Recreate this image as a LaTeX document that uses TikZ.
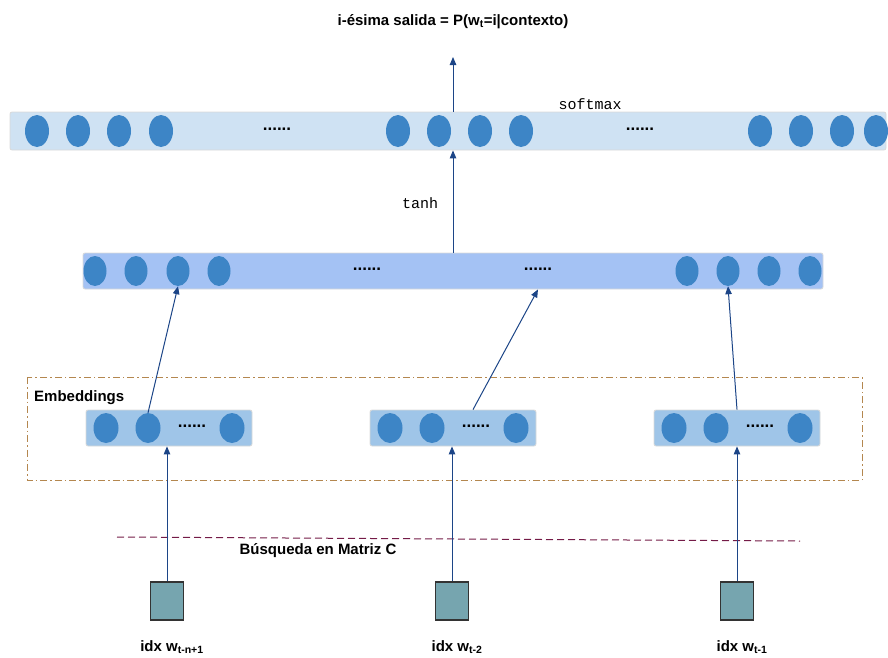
\documentclass[tikz,border=0pt]{standalone}
\usepackage{fontspec}
\setmainfont{Liberation Sans}
\setmonofont{Liberation Mono}
\usetikzlibrary{arrows.meta,shapes.geometric}
\definecolor{barTop}{HTML}{CFE2F3}
\definecolor{barMid}{HTML}{A4C2F4}
\definecolor{barEmb}{HTML}{9FC5E8}
\definecolor{unit}{HTML}{3D85C6}
\definecolor{arrowBlue}{HTML}{1C4587}
\definecolor{frameBrown}{HTML}{B4874F}
\definecolor{lookup}{HTML}{741B47}
\definecolor{wordBox}{HTML}{76A5AF}
\tikzset{
  bar/.style={rounded corners=2pt, draw=black!15, line width=0.8pt},
  neuron/.style={ellipse, fill=unit, minimum width=24, minimum height=32, inner sep=0pt},
  dots/.style={font=\bfseries\fontsize{17}{17}\selectfont, inner sep=0pt},
  flow/.style={draw=arrowBlue, line width=1pt, -{Triangle[width=6.5pt,length=8pt]}},
  label/.style={font=\bfseries\fontsize{15}{17}\selectfont, inner sep=0pt},
  mono/.style={font=\ttfamily\fontsize{15}{16}\selectfont, inner sep=0pt},
  word/.style={draw=black!80, fill=wordBox, line width=1.2pt, minimum width=33, minimum height=38, inner sep=0pt}
}
\begin{document}
\begin{tikzpicture}[x=1pt, y=-1pt]
\useasboundingbox (0,0) rectangle (888,657);

% output layer (softmax)
\node[bar, fill=barTop, minimum width=876, minimum height=38, inner sep=0pt] (out) at (448,131) {};
\foreach \x [count=\i] in {37,78,119,161,398,439,480,521,760,801,842,876}
  \node[neuron] (o\i) at (\x,131) {};
\node[dots] (od1) at (277,129) {......};
\node[dots] (od2) at (640,129) {......};
\node[mono] (smax) at (590,104) {softmax};

% hidden layer (tanh)
\node[bar, fill=barMid, minimum width=740, minimum height=36, inner sep=0pt] (hid) at (453,271) {};
\foreach \x [count=\i] in {95,136,178,219,687,728,769,810}
  \node[neuron, minimum width=23, minimum height=30] (h\i) at (\x,271) {};
\node[dots] (hd1) at (367,269) {......};
\node[dots] (hd2) at (538,269) {......};
\node[mono] (tanh) at (420,203) {tanh};

% embeddings frame
\draw[frameBrown, line width=1pt, dash pattern=on 7pt off 3pt on 1.5pt off 3pt]
  (27,377) rectangle (862,480);
\node[label, anchor=west] (embt) at (34,398) {Embeddings};

% embedding vectors
\foreach \n/\c in {1/169, 2/453, 3/737} {
  \node[bar, fill=barEmb, minimum width=166, minimum height=36, inner sep=0pt] (e\n) at (\c,428) {};
  \node[neuron, minimum width=25, minimum height=30] (e\n a) at (\c-63,428) {};
  \node[neuron, minimum width=25, minimum height=30] (e\n b) at (\c-21,428) {};
  \node[dots] (e\n d) at (\c+23,426) {......};
  \node[neuron, minimum width=25, minimum height=30] (e\n c) at (\c+63,428) {};
}

% lookup boundary
\draw[lookup, line width=1pt, dash pattern=on 7pt off 4pt] (117,537) coordinate (l1) -- (800,541) coordinate (l2);
\node[label] (busq) at (318,551) {Búsqueda en Matriz C};

% word indices
\foreach \n/\x/\s in {1/167/{t-n+1}, 2/452/{t-2}, 3/737/{t-1}} {
  \node[word] (w\n) at (\x,601) {};
  \node[label] (lw\n) at (\x+5,647) {idx w\textsubscript{\s}};
}

% connectors
\draw[flow] (w1.north) -- (e1.south -| w1.north);
\draw[flow] (w2.north) -- (e2.south -| w2.north);
\draw[flow] (w3.north) -- (e3.south -| w3.north);
\draw[flow] (e1b.north) -- (h3.south);
\draw[flow] (e2.north -| 473,0) -- (hd2.south |- hid.south);
\draw[flow] (e3.north -| 737,0) -- (h6.south);
\draw[flow] (hid.north -| 453,0) -- (out.south -| 453,0);
\coordinate (top) at (453,57);
\draw[flow] (out.north -| 453,0) -- (top);
\node[label] (title) at (453,22) {i-ésima salida = P(w\textsubscript{t}=i|contexto)};
\end{tikzpicture}
\end{document}
